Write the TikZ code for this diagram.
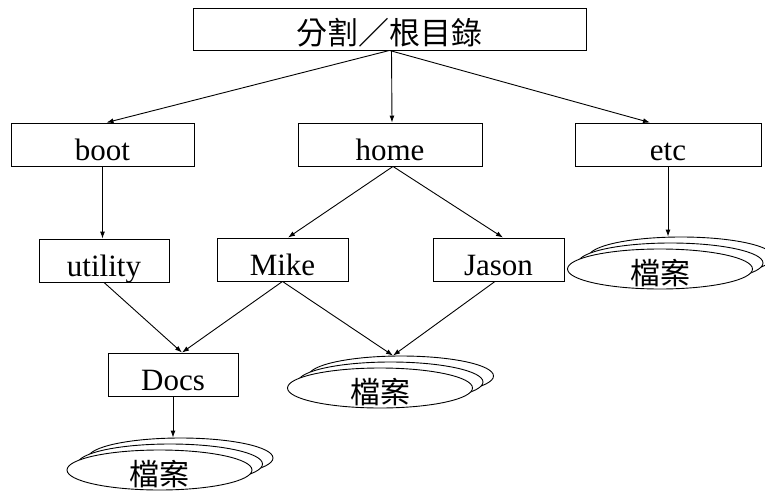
\documentclass[tikz,border=0pt]{standalone}
\usepackage{fontspec}
\setmainfont{Liberation Serif}
\newfontfamily\cjk{Noto Sans CJK TC}
\usetikzlibrary{shapes.geometric,arrows.meta}

\begin{document}
\begin{tikzpicture}[x=1pt,y=-1pt,
  box/.style={draw, line width=0.9pt, inner sep=0pt, text height=31pt, text depth=0pt,
              font=\fontsize{31}{31}\selectfont},
  doc/.style={draw, ellipse, fill=white, line width=0.9pt, minimum width=185pt,
              minimum height=40pt, inner sep=0pt},
  doctext/.style={inner sep=0pt, text height=31pt, text depth=0pt,
              font=\cjk\fontsize{30}{30}\selectfont},
  conn/.style={line width=0.9pt, -{Latex[length=7pt,width=5pt]}}]
\useasboundingbox (0,0) rectangle (765,495);

% directory boxes
\node[box, minimum width=393pt, minimum height=42pt, font=\cjk\fontsize{31}{31}\selectfont]
  (root) at (389.5,29) {分割／根目錄};
\node[box, minimum width=183pt, minimum height=43pt] (boot) at (102.5,144.5) {boot};
\node[box, minimum width=184pt, minimum height=43pt] (home) at (390,144.5) {home};
\node[box, minimum width=186pt, minimum height=43pt] (etc) at (668,144.5) {etc};
\node[box, minimum width=130pt, minimum height=43pt] (utility) at (104,260.5) {utility};
\node[box, minimum width=131pt, minimum height=43pt] (mike) at (282.5,259.5) {Mike};
\node[box, minimum width=131pt, minimum height=43pt] (jason) at (498.5,259.5) {Jason};
\node[box, minimum width=130pt, minimum height=43pt] (docs) at (173,374.5) {Docs};

% file stacks: back sheet first, front sheet last
\node[doc] (eb3) at (681,257) {};
\node[doc] (eb2) at (670.5,263) {};
\node[doc] (eb1) at (660,269) {};
\node[doctext] (et) at (eb1) {檔案};

\node[doc] (mb3) at (401,376) {};
\node[doc] (mb2) at (390.5,382) {};
\node[doc] (mb1) at (380,388) {};
\node[doctext] (mt) at (mb1) {檔案};

\node[doc] (db3) at (180.5,458) {};
\node[doc] (db2) at (170,464) {};
\node[doc] (db1) at (159.5,470) {};
\node[doctext] (dt) at (db1) {檔案};

% connectors
\draw[conn] (root.south) -- ([xshift=4pt]boot.north);
\draw[conn] ([xshift=2pt]root.south) -- ([xshift=2pt]home.north);
\draw[conn] (root.south) -- ([xshift=-18pt]etc.north);
\draw[conn] (boot.south) -- (boot.south |- utility.north);
\draw[conn] ([xshift=3pt]home.south) -- ([xshift=5.5pt]mike.north);
\draw[conn] ([xshift=3pt]home.south) -- ([xshift=4.5pt]jason.north);
\draw[conn] (etc.south) -- (etc.south |- eb3.north);
\draw[conn] (utility.south) -- ([xshift=9pt]docs.north);
\draw[conn] (mike.south) -- ([xshift=9pt]docs.north);
\draw[conn] (mike.south) -- ([xshift=-8pt]mb3.north);
\draw[conn] ([xshift=-3.5pt]jason.south) -- ([xshift=-8pt]mb3.north);
\draw[conn] (docs.south) -- (docs.south |- db3.north);
\end{tikzpicture}
\end{document}
